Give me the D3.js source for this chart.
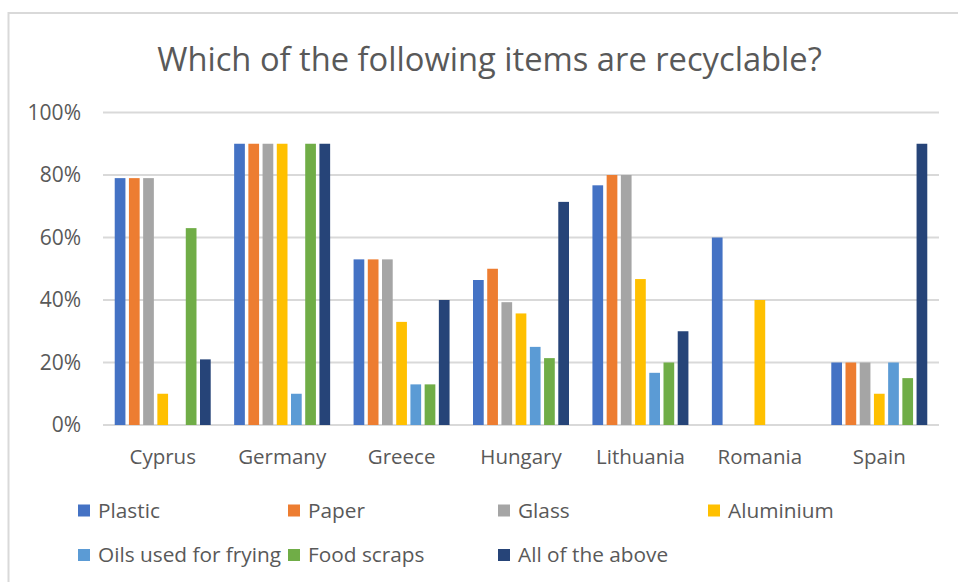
<!DOCTYPE html>
<html lang="en">
<head>
<meta charset="UTF-8">
<title>Which of the following items are recyclable?</title>
<script src="https://cdn.jsdelivr.net/npm/d3@7"></script>
<style>
  html, body { margin: 0; padding: 0; background: #fff; }
  svg { display: block; font-family: "Open Sans", "Noto Sans", sans-serif; }
</style>
</head>
<body>
<div id="chart"></div>
<script>
// data
const countries = ["Cyprus", "Germany", "Greece", "Hungary", "Lithuania", "Romania", "Spain"];
const items = ["Plastic", "Paper", "Glass", "Aluminium", "Oils used for frying", "Food scraps", "All of the above"];
const colors = ["#4472C4", "#ED7D31", "#A5A5A5", "#FFC000", "#5B9BD5", "#70AD47", "#264478"];

const plastic   = [0.79, 0.90, 0.53, 0.464, 0.767, 0.60, 0.20];
const paper     = [0.79, 0.90, 0.53, 0.50, 0.80, 0, 0.20];
const glass     = [0.79, 0.90, 0.53, 0.393, 0.80, 0, 0.20];
const aluminium = [0.10, 0.90, 0.33, 0.357, 0.467, 0.40, 0.10];
const oils      = [0, 0.10, 0.13, 0.25, 0.167, 0, 0.20];
const food      = [0.63, 0.90, 0.13, 0.214, 0.20, 0, 0.15];
const allAbove  = [0.21, 0.90, 0.40, 0.714, 0.30, 0, 0.90];

const yTicks = [0, 0.2, 0.4, 0.6, 0.8, 1];

const series = [plastic, paper, glass, aluminium, oils, food, allAbove];

const width = 958, height = 582;
const textColor = "#595959";
const gridColor = "#D9D9D9";

const svg = d3.select("#chart").append("svg")
    .attr("width", width)
    .attr("height", height);

// chart border
svg.append("rect")
    .attr("x", 8.5).attr("y", 13)
    .attr("width", 1000).attr("height", 600)
    .attr("fill", "none")
    .attr("stroke", gridColor)
    .attr("stroke-width", 2);

// title
const title = svg.append("text")
    .attr("x", 489.5).attr("y", 71)
    .attr("text-anchor", "middle")
    .attr("fill", textColor)
    .attr("font-size", 30)
    .text("Which of the following items are recyclable?");
const tw = title.node().getComputedTextLength();
title.attr("font-size", 30 * 665 / tw);

const x0 = d3.scaleBand()
    .domain(countries)
    .range([103, 939])
    .paddingInner(0.167)
    .paddingOuter(0.0835);

const x1 = d3.scaleBand()
    .domain(d3.range(items.length))
    .range([0, x0.bandwidth()]);

const y = d3.scaleLinear().domain([0, 1]).range([425, 112.5]);

// gridlines
svg.append("g")
  .selectAll("line")
  .data(yTicks)
  .join("line")
    .attr("x1", 103).attr("x2", 939)
    .attr("y1", d => y(d)).attr("y2", d => y(d))
    .attr("stroke", gridColor)
    .attr("stroke-width", 2);

// y axis labels
const yAxis = svg.append("g")
    .attr("transform", "translate(103,0)")
    .call(d3.axisLeft(y).tickValues(yTicks).tickFormat(d3.format(".0%")).tickSize(0).tickPadding(22));
yAxis.select(".domain").remove();
yAxis.selectAll("text")
    .attr("fill", textColor)
    .attr("font-size", 21)
    .attr("font-family", "Open Sans, sans-serif");

// x axis labels
const xAxis = svg.append("g")
    .attr("transform", "translate(0,425)")
    .call(d3.axisBottom(x0).tickSize(0).tickPadding(24));
xAxis.select(".domain").remove();
xAxis.selectAll("text")
    .attr("fill", textColor)
    .attr("font-size", 20.5)
    .attr("font-family", "Open Sans, sans-serif");

// bars
const gap = 3.5;
const groups = svg.append("g")
  .selectAll("g")
  .data(countries)
  .join("g")
    .attr("transform", d => `translate(${x0(d)},0)`);

groups.selectAll("rect")
  .data((c, ci) => series.map((s, si) => ({ si, v: s[ci] })))
  .join("rect")
    .attr("x", d => x1(d.si) + gap / 2)
    .attr("width", x1.bandwidth() - gap)
    .attr("y", d => y(d.v))
    .attr("height", d => y(0) - y(d.v))
    .attr("fill", d => colors[d.si]);

// legend
const legendX = [78, 288, 498, 708];
const legendY = [510.5, 555];
const legend = svg.append("g")
  .selectAll("g")
  .data(items)
  .join("g")
    .attr("transform", (d, i) => `translate(${legendX[i % 4]},${legendY[Math.floor(i / 4)]})`);

legend.append("rect")
    .attr("x", 0).attr("y", -6)
    .attr("width", 12).attr("height", 12)
    .attr("fill", (d, i) => colors[i]);

legend.append("text")
    .attr("x", 20).attr("y", 0)
    .attr("dy", "0.35em")
    .attr("fill", textColor)
    .attr("font-size", 20.8)
    .text(d => d);
</script>
</body>
</html>
